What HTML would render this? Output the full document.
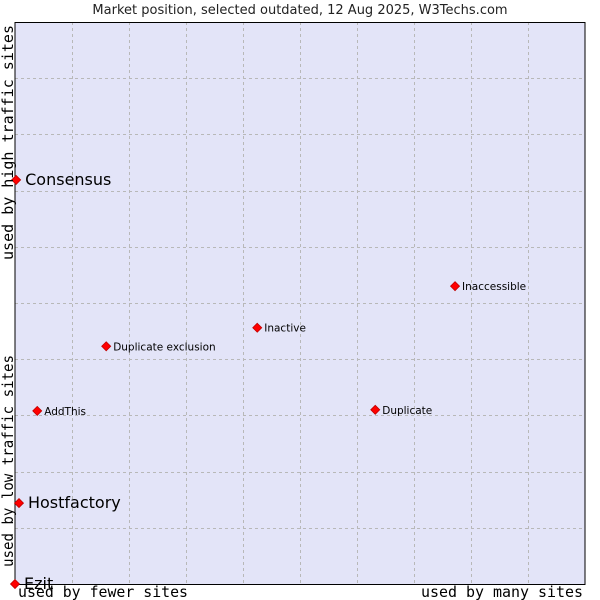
<!DOCTYPE html>
<html><head><meta charset="utf-8"><style>
body{margin:0;background:#fff;width:600px;height:600px;overflow:hidden}
svg{display:block}
</style></head><body>
<svg id="chart" width="600" height="600" xmlns="http://www.w3.org/2000/svg">
<text x="300" y="14" text-anchor="middle" font-family="DejaVu Sans, sans-serif" font-size="13" fill="#222">Market position, selected outdated, 12 Aug 2025, W3Techs.com</text>
<rect x="15" y="22" width="570" height="562" fill="#e3e4f8"/>
<g id="grid"></g>
<line x1="15" y1="22" x2="15" y2="585" stroke="#000" stroke-width="1"/>
<line x1="15" y1="584.5" x2="585" y2="584.5" stroke="#000" stroke-width="1"/>
<line x1="15" y1="22.5" x2="585" y2="22.5" stroke="#000" stroke-width="1"/>
<line x1="585" y1="22" x2="585" y2="585" stroke="#000" stroke-width="1"/>
<g id="points"></g>
<text x="18" y="597" textLength="170" lengthAdjust="spacingAndGlyphs" font-family="DejaVu Sans Mono, Liberation Mono, monospace" font-size="15" fill="#000">used by fewer sites</text>
<text x="421" y="597" textLength="162" lengthAdjust="spacingAndGlyphs" font-family="DejaVu Sans Mono, Liberation Mono, monospace" font-size="15" fill="#000">used by many sites</text>
<text transform="translate(13,567) rotate(-90)" textLength="212" lengthAdjust="spacingAndGlyphs" font-family="DejaVu Sans Mono, Liberation Mono, monospace" font-size="15" fill="#000">used by low traffic sites</text>
<text transform="translate(13,260) rotate(-90)" textLength="235" lengthAdjust="spacingAndGlyphs" font-family="DejaVu Sans Mono, Liberation Mono, monospace" font-size="15" fill="#000">used by high traffic sites</text>
</svg>
<script>
const names = ["Consensus","Hostfactory","Ezit","AddThis","Duplicate exclusion","Inactive","Duplicate","Inaccessible"];
const xValues = [0.2,0.7,0,3.9,16.0,42.5,63.2,77.2];
const yValues = [71.9,14.4,0,30.8,42.3,45.6,31.0,53.0];
const highlighted = [true,true,true,false,false,false,false,false];
const NS="http://www.w3.org/2000/svg";
const L=15,R=585,T=22,B=584;
const xs=v=>L+v/100*(R-L);
const ys=v=>B-v/100*(B-T);
const grid=document.getElementById('grid');
for(let i=1;i<10;i++){
  const gx=document.createElementNS(NS,'line');
  
  
  const x=Math.round(xs(i*10))+0.5;
  gx.setAttribute('x1',x);gx.setAttribute('x2',x);gx.setAttribute('y1',T);gx.setAttribute('y2',B);
  gx.setAttribute('stroke','#b8b8b8');gx.setAttribute('stroke-dasharray','3,3');
  grid.appendChild(gx);
  const gy=document.createElementNS(NS,'line');
  
  
  const y=Math.round(ys(i*10))+0.5;
  gy.setAttribute('x1',L);gy.setAttribute('x2',R);gy.setAttribute('y1',y);gy.setAttribute('y2',y);
  gy.setAttribute('stroke','#b8b8b8');gy.setAttribute('stroke-dasharray','3,3');
  grid.appendChild(gy);
}
const pts=document.getElementById('points');
names.forEach((n,i)=>{
  const cx=xs(xValues[i]),cy=ys(yValues[i]);
  const d=document.createElementNS(NS,'path');
  
  
  d.setAttribute('d',`M${cx} ${cy-4.5}L${cx+4.5} ${cy}L${cx} ${cy+4.5}L${cx-4.5} ${cy}Z`);
  d.setAttribute('fill','#ff0000');d.setAttribute('stroke','#c00000');d.setAttribute('stroke-width','0.8');
  pts.appendChild(d);
  const t=document.createElementNS(NS,'text');
  
  
  const big=highlighted[i];
  t.setAttribute('x',cx+(big?9:7));
  t.setAttribute('y',cy+(big?5:4));
  t.setAttribute('font-family','DejaVu Sans, sans-serif');
  t.setAttribute('font-size',big?16:10.5);
  t.setAttribute('fill','#000');
  t.textContent=n;
  pts.appendChild(t);
});
</script>
</body></html>
